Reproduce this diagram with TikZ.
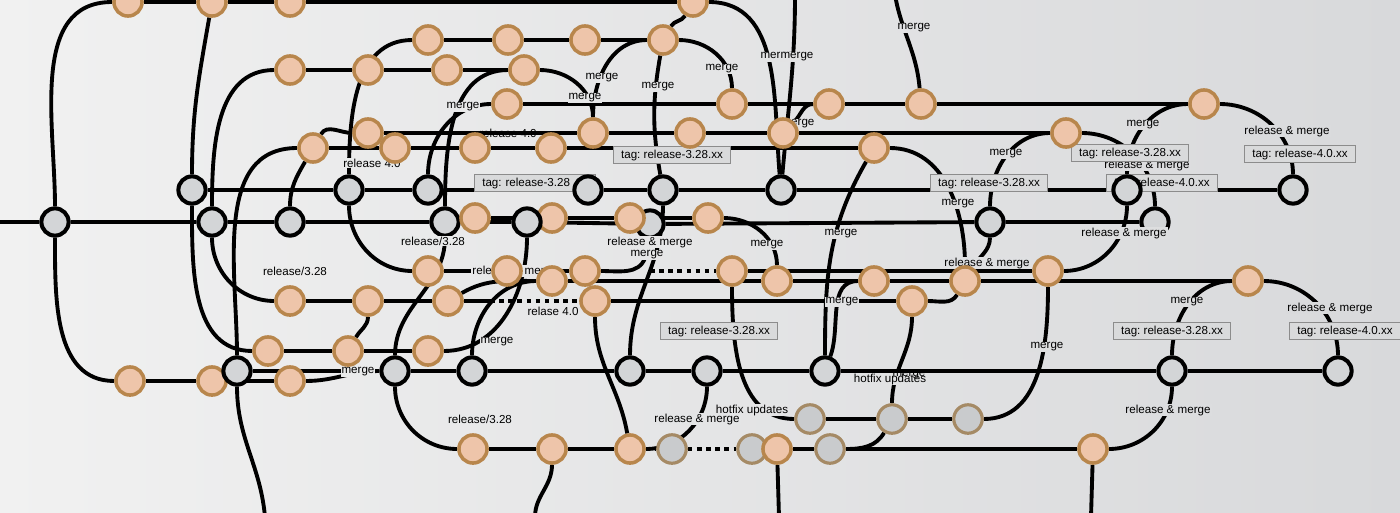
\documentclass[tikz,border=0pt]{standalone}
\usepackage{fontspec}
\setmainfont{Liberation Sans}
\frenchspacing
\pgfdeclarelayer{bgl}
\pgfdeclarelayer{edg}
\pgfdeclarelayer{back}
\pgfdeclarelayer{lab}
\pgfsetlayers{bgl,edg,back,lab,main}
\definecolor{bgL}{HTML}{F1F1F1}
\definecolor{bgR}{HTML}{D8D9DB}
\definecolor{peach}{HTML}{EEC5AA}
\definecolor{tanb}{HTML}{B8864C}
\definecolor{gfill}{HTML}{D3D5D7}
\definecolor{tgfill}{HTML}{C9CBCD}
\definecolor{tgb}{HTML}{A58A65}
\definecolor{tagfill}{HTML}{D9DADB}
\definecolor{tagdraw}{HTML}{8C8C8C}
\tikzset{
 grnode/.style={circle, fill=gfill, draw=black, line width=2.3pt, minimum size=15.5pt, inner sep=0pt},
 ornode/.style={circle, fill=peach, draw=tanb, line width=2pt, minimum size=16pt, inner sep=0pt},
 tnnode/.style={circle, fill=tgfill, draw=tgb, line width=1.8pt, minimum size=16.2pt, inner sep=0pt},
 lnk/.style={line width=2.2pt, black},
 dotlnk/.style={line width=2.2pt, black, dash pattern=on 2.6pt off 2.6pt},
 lbl/.style={font=\fontsize{6.6}{7.5}\selectfont, inner sep=0.6pt, fill=bgR!#1!bgL},
 lblnf/.style={font=\fontsize{6.6}{7.5}\selectfont, inner sep=0.6pt},
 tagbox/.style={font=\fontsize{6.6}{7.5}\selectfont, fill=tagfill, draw=tagdraw, line width=0.6pt, inner xsep=4.5pt, inner ysep=1pt, minimum height=10pt},
}
\begin{document}
\begin{tikzpicture}[x=0.02cm,y=0.02cm]
\useasboundingbox (0,0) rectangle (1400,512);
\begin{pgfonlayer}{bgl}
\fill[left color=bgL, right color=bgR] (0,0) rectangle (1400,512);
\end{pgfonlayer}
% orange nodes
\node[ornode] (o1) at (128,512-2) {};
\node[ornode] (o2) at (212,512-2) {};
\node[ornode] (o3) at (290,512-2) {};
\node[ornode] (o57) at (693,512-2) {};
\node[ornode] (o4) at (428,512-40) {};
\node[ornode] (o5) at (508,512-40) {};
\node[ornode] (o6) at (585,512-40) {};
\node[ornode] (o7) at (663,512-40) {};
\node[ornode] (o8) at (290,512-70) {};
\node[ornode] (o9) at (368,512-70) {};
\node[ornode] (o10) at (447,512-70) {};
\node[ornode] (o11) at (524,512-70) {};
\node[ornode] (o12) at (507,512-104) {};
\node[ornode] (o13) at (732,512-104) {};
\node[ornode] (o14) at (829,512-104) {};
\node[ornode] (o15) at (921,512-104) {};
\node[ornode] (o16) at (1204,512-104) {};
\node[ornode] (o17) at (368,512-133) {};
\node[ornode] (o18) at (593,512-133) {};
\node[ornode] (o19) at (690,512-133) {};
\node[ornode] (o20) at (783,512-133) {};
\node[ornode] (o21) at (1066,512-133) {};
\node[ornode] (o22) at (313,512-148) {};
\node[ornode] (o23) at (395,512-148) {};
\node[ornode] (o24) at (475,512-148) {};
\node[ornode] (o25) at (551,512-148) {};
\node[ornode] (o26) at (874,512-148) {};
\begin{pgfonlayer}{back}
\node[grnode] (g7) at (445,512-222) {};
\node[grnode] (g24) at (650,512-224) {};
\node[grnode] (g14) at (1155,512-222) {};
\end{pgfonlayer}
\node[ornode] (o27) at (475,512-218) {};
\node[ornode] (o28) at (552,512-218) {};
\node[ornode] (o29) at (630,512-218) {};
\node[ornode] (o30) at (708,512-218) {};
\node[ornode] (o31) at (428,512-271) {};
\node[ornode] (o32) at (507,512-271) {};
\node[ornode] (o33) at (585,512-271) {};
\node[ornode] (o34) at (732,512-271) {};
\node[ornode] (o35) at (1048,512-271) {};
\node[ornode] (o36) at (552,512-281) {};
\node[ornode] (o37) at (777,512-281) {};
\node[ornode] (o38) at (874,512-281) {};
\node[ornode] (o39) at (965,512-281) {};
\node[ornode] (o40) at (1248,512-281) {};
\node[ornode] (o41) at (290,512-301) {};
\node[ornode] (o42) at (368,512-301) {};
\node[ornode] (o43) at (448,512-301) {};
\node[ornode] (o44) at (595,512-301) {};
\node[ornode] (o45) at (912,512-301) {};
\node[ornode] (o46) at (268,512-351) {};
\node[ornode] (o47) at (348,512-351) {};
\node[ornode] (o48) at (428,512-351) {};
\node[ornode] (o49) at (130,512-381) {};
\node[ornode] (o50) at (212,512-381) {};
\node[ornode] (o51) at (290,512-381) {};
\node[ornode] (o52) at (473,512-449) {};
\node[ornode] (o53) at (552,512-449) {};
\node[ornode] (o54) at (630,512-449) {};
\node[tnnode] (t1) at (672,512-449) {};
\node[tnnode] (t2) at (752,512-449) {};
\node[ornode] (o55) at (777,512-449) {};
\node[tnnode] (t3) at (830,512-449) {};
\node[ornode] (o56) at (1093,512-449) {};
\node[tnnode] (t4) at (810,512-419) {};
\node[tnnode] (t5) at (892,512-419) {};
\node[tnnode] (t6) at (968,512-419) {};
% gray nodes
\node[grnode] (g1) at (55,512-222) {};
\node[grnode] (g2) at (192,512-190) {};
\node[grnode] (g3) at (212,512-222) {};
\node[grnode] (g4) at (290,512-222) {};
\node[grnode] (g5) at (349,512-190) {};
\node[grnode] (g6) at (428,512-190) {};
\node[grnode] (g8) at (527,512-222) {};
\node[grnode] (g9) at (588,512-190) {};
\node[grnode] (g10) at (663,512-190) {};
\node[grnode] (g11) at (781,512-190) {};
\node[grnode] (g12) at (990,512-222) {};
\node[grnode] (g13) at (1127,512-190) {};
\node[grnode] (g15) at (1293,512-190) {};
\node[grnode] (g16) at (237,512-371) {};
\node[grnode] (g17) at (395,512-371) {};
\node[grnode] (g18) at (472,512-371) {};
\node[grnode] (g19) at (630,512-371) {};
\node[grnode] (g20) at (707,512-371) {};
\node[grnode] (g21) at (825,512-371) {};
\node[grnode] (g22) at (1172,512-371) {};
\node[grnode] (g23) at (1338,512-371) {};
% free ends
\coordinate (a0) at (-5,512-222);
\coordinate (m1) at (645,512-258);
\coordinate (m2) at (650,512-271);
\coordinate (m3) at (490,512-301);
\coordinate (b1) at (265,-5);
\coordinate (b2) at (535,-5);
\coordinate (b3) at (779,-5);
\coordinate (b4) at (1091,-5);
\coordinate (tb) at (795,517);
\coordinate (tc) at (895,517);
\begin{pgfonlayer}{edg}
% rows
\draw[lnk] (o1)--(o2)--(o3)--(o57);
\draw[lnk] (o4)--(o5)--(o6)--(o7);
\draw[lnk] (o8)--(o9)--(o10)--(o11);
\draw[lnk] (o12)--(o13)--(o14)--(o15)--(o16);
\draw[lnk] (o17)--(o18)--(o19)--(o20)--(o21);
\draw[lnk] (o22)--(o23)--(o24)--(o25)--(o26);
\draw[lnk] (g2)--(g5)--(g6)--(g9)--(g10)--(g11)--(g13)--(g15);
\draw[lnk] (a0)--(g1)--(g3)--(g4)--(g7)--(g8)--(g24)--(g12)--(g14);
\draw[lnk] (o27)--(o28)--(o29)--(o30);
\draw[lnk] (o31)--(o32)--(o33);
\draw[dotlnk] (m2)--(o34);
\draw[lnk] (o34)--(o35);
\draw[lnk] (o36)--(o37)--(o38)--(o39)--(o40);
\draw[lnk] (o41)--(o42)--(o43)--(m3);
\draw[dotlnk] (m3)--(o44);
\draw[lnk] (o44)--(o45);
\draw[lnk] (o46)--(o47)--(o48);
\draw[lnk] (g16)--(g17)--(g18)--(g19)--(g20)--(g21)--(g22)--(g23);
\draw[lnk] (o49)--(o50)--(o51);
\draw[lnk] (t4)--(t5)--(t6);
\draw[lnk] (o52)--(o53)--(o54);
\draw[dotlnk] (o54)--(t1)--(t2)--(o55);
\draw[lnk] (o55)--(t3)--(o56);
% curves
\draw[lnk] (o1) to[out=180,in=90] (g1);
\draw[lnk] (g1) to[out=-90,in=180] (o49);
\draw[lnk] (o2) to[out=-100,in=90] (g2);
\draw[lnk] (g2) to[out=-90,in=180] (o46);
\draw[lnk] (o8) to[out=180,in=90] (g3);
\draw[lnk] (g3) to[out=-90,in=180] (o41);
\draw[lnk] (o22) to[out=180,in=90] (g16);
\draw[lnk] (o22) to[out=-120,in=90] (g4);
\draw[lnk] (o22) to[out=60,in=180] (o17);
\draw[lnk] (g16) to[out=-90,in=95] (b1);
\draw[lnk] (o4) to[out=180,in=90] (g5);
\draw[lnk] (g5) to[out=-90,in=180] (o31);
\draw[lnk] (o12) to[out=180,in=90] (g6);
\draw[lnk] (g7) to[out=90,in=180] (o11);
\draw[lnk] (g7) to[out=-90,in=90] (g17);
\draw[lnk] (g17) to[out=-90,in=180] (o52);
\draw[lnk] (o7) to[out=180,in=90] (o18);
\draw[lnk] (o11) to[out=0,in=90] (o18);
\draw[lnk] (o57) to[out=-120,in=60] (o7);
\draw[lnk] (o7) to[out=-100,in=100] (g10);
\draw[lnk] (o7) to[out=0,in=90] (o13);
\draw[lnk] (o57) to[out=0,in=95] (g11);
\draw[lnk] (tb) to[out=-90,in=85] (g11);
\draw[lnk] (tc) to[out=-80,in=95] (o15);
\draw[lnk] (o14) to[out=180,in=45] (o20);
\draw[lnk] (o16) to[out=180,in=90] (g13);
\draw[lnk] (o16) to[out=0,in=90] (g15);
\draw[lnk] (o21) to[out=0,in=90] (g14);
\draw[lnk] (g12) to[out=90,in=180] (o21);
\draw[lnk] (g13) to[out=-90,in=0] (o35);
\draw[lnk] (o26) to[out=0,in=90] (o39);
\draw[lnk] (o26) to[out=-120,in=90] (g21);
\draw[lnk] (o30) to[out=0,in=90] (o37);
\draw[lnk] (g10) to[out=-90,in=90] (g19);
\draw[lnk] (o33) to[out=0,in=-110] (m1);
\draw[lnk] (g12) to[out=-90,in=60] (o39);
\draw[lnk] (o45) to[out=0,in=-120] (o39);
\draw[lnk] (o38) to[out=180,in=70] (g21);
\draw[lnk] (o34) to[out=-90,in=180] (t4);
\draw[lnk] (t3) to[out=0,in=-120] (t5);
\draw[lnk] (t5) to[out=90,in=-90] (o45);
\draw[lnk] (t6) to[out=0,in=-90] (o35);
\draw[lnk] (o54) to[out=0,in=-90] (g20);
\draw[lnk] (o44) to[out=-90,in=100] (o54);
\draw[lnk] (o42) to[out=-90,in=60] (o47);
\draw[lnk] (g18) to[out=90,in=180] (o36);
\draw[lnk] (o43) to[out=30,in=180] (o36);
\draw[lnk] (g8) to[out=-90,in=0] (o48);
\draw[lnk] (o51) to[out=0,in=180] (g17);
\draw[lnk] (o53) to[out=-90,in=90] (b2);
\draw[lnk] (o55) -- (b3);
\draw[lnk] (o56) -- (b4);
\draw[lnk] (o56) to[out=0,in=-90] (g22);
\draw[lnk] (o40) to[out=180,in=90] (g22);
\draw[lnk] (o40) to[out=0,in=90] (g23);
\end{pgfonlayer}
\begin{pgfonlayer}{lab}
\node[lbl=82] (h1) at (1147,512-165) {release \& merge};
\node[lbl=37] (h2) at (515,512-271) {release \& merge};
\node[lbl=33] (l1) at (463,512-107) {merge};
\node[lbl=42] (l2) at (585,512-98) {merge};
\node[lbl=43] (l3) at (602,512-78) {merge};
\node[lbl=47] (l4) at (658,512-87) {merge};
\node[lbl=52] (l5) at (722,512-69) {merge};
\node[lbl=55] (l6) at (777,512-57) {merge};
\node[lbl=57] (l7) at (797,512-57) {merge};
\node[lbl=65] (l8) at (914,512-28) {merge};
\node[lbl=57] (l9) at (798,512-124) {merge};
\node[lbl=72] (l10) at (1006,512-154) {merge};
\node[lbl=68] (l11) at (958,512-204) {merge};
\node[lbl=60] (l12) at (841,512-234) {merge};
\node[lbl=55] (l13) at (767,512-245) {merge};
\node[lbl=82] (l14) at (1143,512-125) {merge};
\node[lbl=92] (l15) at (1287,512-131) {release \& merge};
\node[lbl=80] (l16) at (1124,512-233) {release \& merge};
\node[lbl=70] (l17) at (987,512-263) {release \& merge};
\node[lbl=46] (l18) at (650,512-242) {release \& merge};
\node[lbl=46] (l19) at (647,512-255) {merge};
\node[lbl=60] (l20) at (842,512-302) {merge};
\node[lbl=85] (l21) at (1187,512-302) {merge};
\node[lbl=95] (l22) at (1330,512-308) {release \& merge};
\node[lbl=75] (l23) at (1047,512-347) {merge};
\node[lbl=35] (l24) at (497,512-342) {merge};
\node[lbl=26] (l25) at (358,512-372) {merge};
\node[lbl=64] (l26) at (890,512-379) {hotfix updates};
\node[lblnf] (l27) at (909,512-375) {merge};
\node[lbl=54] (l28) at (752,512-410) {hotfix updates};
\node[lbl=50] (l29) at (697,512-419) {release \& merge};
\node[lbl=83] (l30) at (1168,512-410) {release \& merge};
\node[lbl=34] (l31) at (480,512-419) {release/3.28};
\node[lbl=31] (l32) at (433,512-241) {release/3.28};
\node[lbl=21] (l33) at (295,512-271) {release/3.28};
\node[lbl=40] (l34) at (553,512-311) {relase 4.0};
\node[lblnf] (l35) at (508,512-133) {release 4.0};
\node[lbl=27] (l36) at (372,512-163) {release 4.0};
% tags
\node[tagbox] (tg1) at (672,512-155) {tag: release-3.28.xx};
\node[tagbox, text width=60pt, align=left] (tg2) at (535,512-183) {tag: release-3.28};
\node[tagbox] (tg3) at (989,512-183) {tag: release-3.28.xx};
\node[tagbox] (tg4) at (1130,512-153) {tag: release-3.28.xx};
\node[tagbox] (tg5) at (1300,512-154) {tag: release-4.0.xx};
\node[tagbox] (tg6) at (1162,512-183) {tag: release-4.0.xx};
\node[tagbox] (tg7) at (719,512-331) {tag: release-3.28.xx};
\node[tagbox] (tg8) at (1172,512-331) {tag: release-3.28.xx};
\node[tagbox] (tg9) at (1345,512-331) {tag: release-4.0.xx};
\end{pgfonlayer}
\end{tikzpicture}
\end{document}
